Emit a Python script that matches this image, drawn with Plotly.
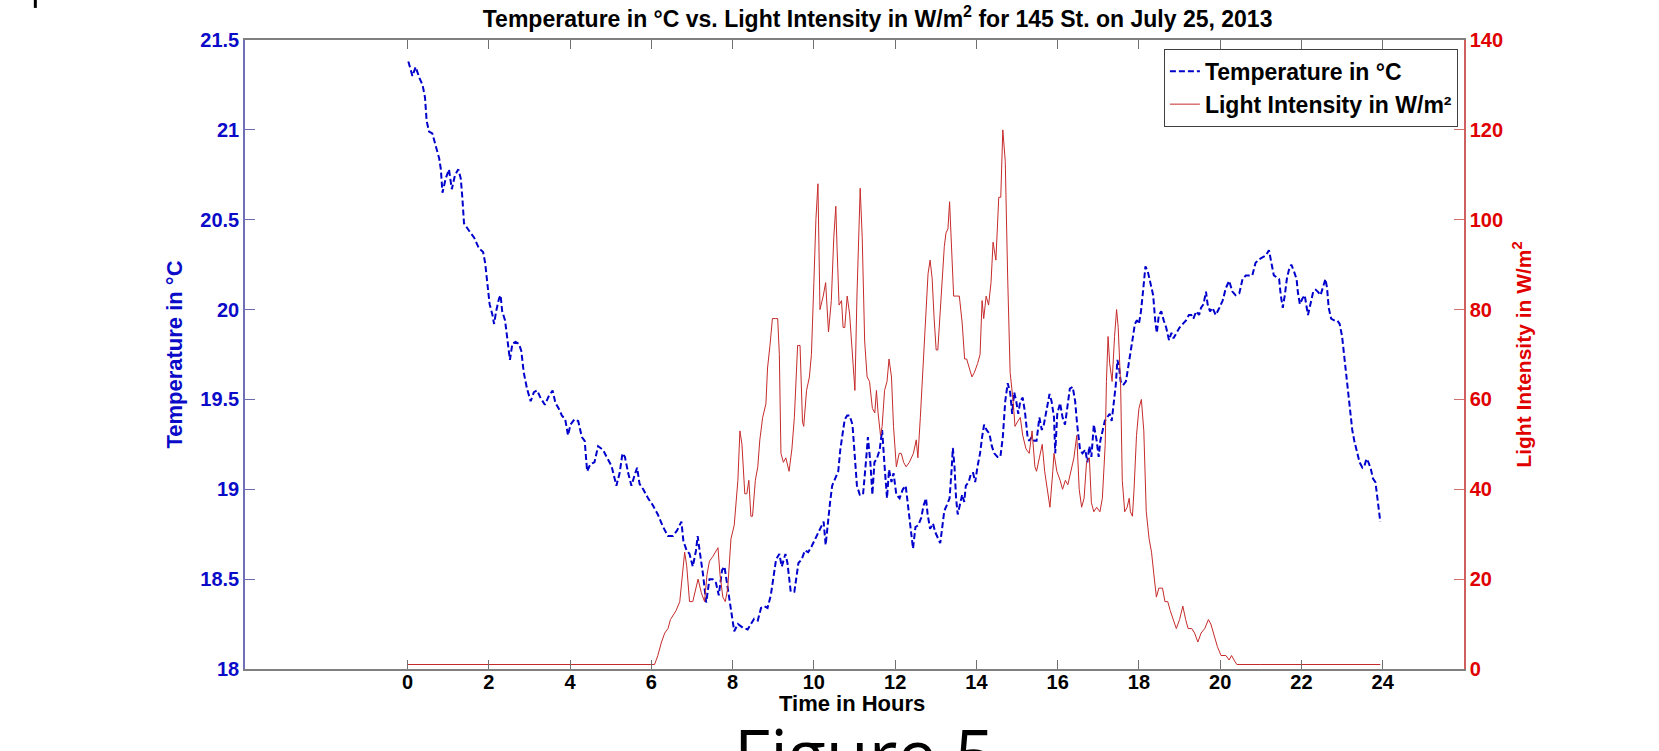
import plotly.graph_objects as go

# ---------------- data ----------------
temp_hours = [0.02, 0.12, 0.2, 0.29, 0.37, 0.43, 0.47, 0.53, 0.61, 0.7, 0.78, 0.82, 0.86, 0.94, 1.02, 1.09, 1.17, 1.25,
              1.31, 1.35, 1.39, 1.51, 1.64, 1.76, 1.86, 1.91, 1.96, 2.02, 2.09, 2.13, 2.18, 2.25, 2.29, 2.33, 2.40, 2.45,
              2.52, 2.58, 2.66, 2.74, 2.80, 2.86, 2.94, 3.03, 3.11, 3.19, 3.27, 3.38, 3.48, 3.57, 3.64, 3.72, 3.80, 3.88,
              3.95, 4.01, 4.11, 4.20, 4.29, 4.36, 4.42, 4.50, 4.60, 4.69, 4.81, 4.90, 5.02, 5.14, 5.22, 5.29, 5.35,
              5.43, 5.51, 5.59, 5.65, 5.71, 5.80, 5.92, 6.04, 6.16, 6.29, 6.41, 6.53, 6.63, 6.74, 6.79, 6.87, 6.94, 7.02,
              7.10, 7.14, 7.20, 7.27, 7.35, 7.43, 7.51, 7.59, 7.66, 7.74, 7.80, 7.86, 7.92, 7.99, 8.04, 8.13, 8.25, 8.37,
              8.45, 8.53, 8.62, 8.70, 8.78, 8.86, 8.94, 9.00, 9.07, 9.15, 9.21, 9.30, 9.35, 9.43, 9.52, 9.62, 9.70,
              9.78, 9.86, 9.94, 10.02, 10.11, 10.18, 10.24, 10.29, 10.34, 10.40, 10.45, 10.52, 10.60, 10.65, 10.70,
              10.76, 10.82, 10.88, 10.95, 11.01, 11.06, 11.13, 11.21, 11.28, 11.33, 11.39, 11.44, 11.49, 11.55, 11.62,
              11.68, 11.74, 11.80, 11.85, 11.91, 11.96, 12.03, 12.11, 12.19, 12.26, 12.31, 12.37, 12.44, 12.50, 12.57,
              12.64, 12.70, 12.76, 12.80, 12.86, 12.93, 12.99, 13.05, 13.11, 13.16, 13.21, 13.27, 13.34, 13.39, 13.42,
              13.46, 13.50, 13.54, 13.60, 13.65, 13.70, 13.74, 13.81, 13.87, 13.92, 13.97, 14.03, 14.09, 14.14, 14.19,
              14.25, 14.32, 14.38, 14.44, 14.52, 14.59, 14.65, 14.71, 14.77, 14.83, 14.88, 14.93, 14.98, 15.03, 15.08,
              15.14, 15.20, 15.26, 15.30, 15.36, 15.42, 15.48, 15.55, 15.61, 15.66, 15.73, 15.80, 15.85, 15.91, 15.94,
              15.99, 16.06, 16.12, 16.18, 16.24, 16.30, 16.37, 16.43, 16.48, 16.55, 16.61, 16.68, 16.73, 16.78, 16.83,
              16.89, 16.96, 17.01, 17.05, 17.10, 17.16, 17.22, 17.28, 17.33, 17.38, 17.43, 17.47, 17.51, 17.55, 17.61,
              17.68, 17.73, 17.79, 17.84, 17.90, 17.95, 18.00, 18.05, 18.10, 18.16, 18.22, 18.28, 18.35, 18.40, 18.44,
              18.49, 18.55, 18.61, 18.67, 18.74, 18.80, 18.85, 18.92, 19.00, 19.08, 19.16, 19.23, 19.29, 19.34, 19.41,
              19.48, 19.53, 19.59, 19.65, 19.69, 19.75, 19.81, 19.89, 19.98, 20.06, 20.14, 20.22, 20.30, 20.38, 20.47,
              20.55, 20.63, 20.71, 20.79, 20.87, 20.96, 21.04, 21.12, 21.20, 21.26, 21.32, 21.39, 21.45, 21.49, 21.54,
              21.59, 21.64, 21.69, 21.75, 21.82, 21.88, 21.91, 21.96, 22.02, 22.08, 22.13, 22.16, 22.22, 22.29, 22.35,
              22.40, 22.47, 22.53, 22.59, 22.63, 22.67, 22.73, 22.80, 22.88, 22.94, 23.00, 23.06, 23.12, 23.19, 23.25,
              23.30, 23.37, 23.43, 23.50, 23.55, 23.60, 23.65, 23.71, 23.76, 23.82, 23.86, 23.90, 23.94]
temperature = [21.38, 21.30, 21.35, 21.29, 21.25, 21.18, 21.05, 20.99, 20.98, 20.91, 20.84, 20.78, 20.65, 20.73, 20.78,
               20.67, 20.75, 20.78, 20.73, 20.62, 20.48, 20.44, 20.40, 20.34, 20.32, 20.26, 20.15, 20.03, 19.97, 19.92,
               19.99, 20.06, 20.08, 19.99, 19.94, 19.85, 19.72, 19.81, 19.82, 19.81, 19.77, 19.65, 19.56, 19.49, 19.54,
               19.55, 19.51, 19.47, 19.52, 19.55, 19.48, 19.45, 19.41, 19.39, 19.30, 19.36, 19.39, 19.38, 19.29, 19.27,
               19.10, 19.14, 19.15, 19.24, 19.22, 19.18, 19.13, 19.02, 19.09, 19.20, 19.18, 19.09, 19.02, 19.08, 19.12,
               19.03, 19.00, 18.95, 18.91, 18.86, 18.79, 18.74, 18.74, 18.77, 18.82, 18.71, 18.66, 18.64, 18.57, 18.66,
               18.74, 18.64, 18.53, 18.37, 18.50, 18.50, 18.48, 18.41, 18.55, 18.57, 18.48, 18.37, 18.28, 18.21, 18.25,
               18.23, 18.22, 18.25, 18.28, 18.27, 18.34, 18.35, 18.34, 18.41, 18.50, 18.61, 18.64, 18.57, 18.64, 18.59,
               18.43, 18.43, 18.59, 18.61, 18.66, 18.65, 18.68, 18.72, 18.76, 18.80, 18.82, 18.69, 18.82, 18.93, 19.02,
               19.06, 19.10, 19.22, 19.31, 19.39, 19.41, 19.41, 19.36, 19.15, 19.02, 18.97, 18.97, 19.15, 19.29, 19.15,
               18.97, 19.15, 19.17, 19.22, 19.33, 19.13, 18.95, 19.11, 19.04, 19.09, 18.97, 18.95, 19.00, 19.02, 18.93,
               18.82, 18.67, 18.79, 18.80, 18.84, 18.91, 18.95, 18.86, 18.78, 18.81, 18.76, 18.73, 18.70, 18.79, 18.88,
               18.91, 18.95, 19.11, 19.23, 19.13, 18.95, 18.86, 18.93, 18.97, 18.93, 19.02, 19.04, 19.09, 19.09, 19.04,
               19.13, 19.20, 19.29, 19.36, 19.33, 19.31, 19.24, 19.20, 19.18, 19.18, 19.29, 19.49, 19.59, 19.54, 19.42,
               19.54, 19.49, 19.42, 19.49, 19.51, 19.42, 19.29, 19.27, 19.29, 19.27, 19.27, 19.40, 19.33, 19.36, 19.45,
               19.53, 19.49, 19.40, 19.20, 19.42, 19.48, 19.40, 19.36, 19.47, 19.56, 19.57, 19.49, 19.36, 19.22, 19.20,
               19.22, 19.15, 19.24, 19.18, 19.36, 19.27, 19.18, 19.27, 19.32, 19.38, 19.40, 19.42, 19.38, 19.49, 19.58,
               19.72, 19.68, 19.60, 19.58, 19.60, 19.68, 19.76, 19.83, 19.92, 19.94, 19.92, 19.99, 20.10, 20.24, 20.21,
               20.15, 20.08, 19.94, 19.87, 19.97, 19.99, 19.94, 19.90, 19.83, 19.87, 19.84, 19.87, 19.90, 19.92, 19.94,
               19.97, 19.97, 19.95, 19.99, 19.97, 20.01, 20.03, 20.10, 20.03, 19.99, 20.01, 19.97, 20.01, 20.05, 20.12,
               20.16, 20.10, 20.08, 20.09, 20.17, 20.19, 20.19, 20.19, 20.26, 20.28, 20.29, 20.30, 20.33, 20.26, 20.19,
               20.18, 20.17, 20.08, 20.01, 20.08, 20.17, 20.22, 20.25, 20.21, 20.17, 20.10, 20.03, 20.06, 20.08, 20.01,
               19.97, 20.03, 20.10, 20.11, 20.10, 20.08, 20.12, 20.17, 20.12, 20.01, 19.95, 19.94, 19.94, 19.92, 19.85,
               19.72, 19.58, 19.42, 19.33, 19.27, 19.20, 19.15, 19.12, 19.13, 19.17, 19.15, 19.11, 19.06, 19.04, 18.97,
               18.88, 18.82]

light_hours = [0.0, 2.0, 4.0, 6.0, 6.08, 6.16, 6.25, 6.33, 6.41, 6.47, 6.53, 6.61, 6.70, 6.76, 6.82, 6.87, 6.94, 7.02,
               7.10, 7.15, 7.23, 7.31, 7.37, 7.43, 7.51, 7.64, 7.69, 7.76, 7.82, 7.88, 7.96, 8.04, 8.13, 8.18, 8.23,
               8.30, 8.35, 8.40, 8.45, 8.49, 8.56, 8.62, 8.67, 8.74, 8.82, 8.86, 8.92, 8.98, 9.05, 9.11, 9.15, 9.19,
               9.25, 9.31, 9.39, 9.46, 9.52, 9.60, 9.66, 9.72, 9.75, 9.82, 9.89, 9.94, 10.0, 10.05, 10.10, 10.15,
               10.23, 10.29, 10.36, 10.43, 10.49, 10.54, 10.57, 10.62, 10.68, 10.72, 10.76, 10.82, 10.88, 10.95,
               11.01, 11.06, 11.11, 11.14, 11.19, 11.25, 11.31, 11.37, 11.44, 11.50, 11.54, 11.58, 11.64, 11.68,
               11.74, 11.80, 11.85, 11.91, 11.96, 12.03, 12.10, 12.15, 12.21, 12.27, 12.35, 12.45, 12.52, 12.56,
               12.62, 12.68, 12.75, 12.81, 12.86, 12.91, 12.96, 13.01, 13.05, 13.09, 13.16, 13.21, 13.25, 13.30,
               13.34, 13.38, 13.44, 13.52, 13.58, 13.65, 13.71, 13.76, 13.83, 13.89, 13.95, 14.03, 14.09, 14.14,
               14.18, 14.24, 14.30, 14.36, 14.41, 14.48, 14.55, 14.60, 14.65, 14.71, 14.77, 14.83, 14.90, 14.95,
               15.01, 15.08, 15.14, 15.22, 15.30, 15.37, 15.44, 15.48, 15.55, 15.62, 15.68, 15.75, 15.81, 15.88,
               15.91, 15.98, 16.06, 16.12, 16.19, 16.25, 16.32, 16.40, 16.47, 16.53, 16.59, 16.65, 16.71, 16.78,
               16.83, 16.89, 16.96, 17.04, 17.10, 17.17, 17.20, 17.24, 17.28, 17.34, 17.40, 17.45, 17.49, 17.55,
               17.59, 17.65, 17.71, 17.76, 17.79, 17.84, 17.88, 17.94, 18.00, 18.06, 18.12, 18.18, 18.25, 18.31,
               18.38, 18.43, 18.49, 18.58, 18.64, 18.71, 18.77, 18.84, 18.92, 19.00, 19.08, 19.15, 19.21, 19.30,
               19.37, 19.45, 19.53, 19.62, 19.71, 19.77, 19.84, 19.93, 20.02, 20.14, 20.22, 20.28, 20.34, 20.41,
               21.0, 22.0, 23.0, 23.94]
light = [1, 1, 1, 1, 1, 3, 6, 8, 9, 11, 12, 13, 15, 20, 26, 23, 15, 15,
         18, 20, 17, 15, 21, 24, 25, 27, 21, 16, 15, 18, 29, 32, 42, 53, 50,
         39, 39, 42, 34, 34, 42, 45, 51, 56, 59, 67, 72, 78, 78, 78, 70, 48,
         46, 47, 44, 49, 56, 72, 72, 55, 54, 62, 65, 70, 86, 100, 108, 80,
         83, 86, 75, 82, 96, 103, 94, 81, 82, 76, 76, 83, 79, 70,
         62, 83, 102, 107, 96, 73, 65, 64, 58, 57, 62, 57, 52, 54,
         62, 64, 69, 65, 54, 45, 48, 48, 46, 45, 46, 48, 51, 47,
         56, 66, 80, 88, 91, 87, 78, 71, 71, 77, 85, 94, 97, 98,
         104, 94, 83, 83, 83, 77, 69, 69, 67, 65, 66, 68, 70, 82,
         78, 83, 81, 86, 95, 91, 105, 105, 120, 113, 87, 66, 60, 54,
         55, 56, 52, 49, 48, 53, 45, 44, 47, 50, 44, 40, 36, 44,
         48, 44, 42, 40, 42, 41, 44, 47, 52, 40, 36, 38, 46, 47,
         37, 35, 36, 35, 38, 50, 64, 74, 68, 64, 74, 80, 76, 63,
         42, 35, 36, 38, 35, 34, 40, 52, 58, 60, 53, 35, 29, 26,
         20, 16, 18, 18, 15, 15, 13, 11, 9, 11, 14, 11, 9, 9,
         8, 6, 8, 9, 11, 10, 8, 5, 3, 3, 2, 3, 2, 1,
         1, 1, 1, 1]

x_ticks = list(range(0, 25, 2))
temp_ticks = [18, 18.5, 19, 19.5, 20, 20.5, 21, 21.5]
temp_tick_text = ["18", "18.5", "19", "19.5", "20", "20.5", "21", "21.5"]
light_ticks = [0, 20, 40, 60, 80, 100, 120, 140]

# ---------------- styles ----------------
FONT = "Liberation Sans, Arial, sans-serif"
BLUE = "#0a0ac8"
RED = "#e00000"
LINE_RED = "#c62b2b"

fig = go.Figure()
fig.add_trace(go.Scatter(
    x=temp_hours, y=temperature, mode="lines", name="Temperature in °C",
    line=dict(color="#0000cc", width=2, dash="6px,3px"), yaxis="y"))
fig.add_trace(go.Scatter(
    x=light_hours, y=light, mode="lines", name="Light Intensity in W/m²",
    line=dict(color=LINE_RED, width=1.0), yaxis="y2"))

fig.update_layout(
    width=1659, height=751,
    margin=dict(l=245, r=195, t=40, b=82),
    paper_bgcolor="white", plot_bgcolor="white",
    font=dict(family=FONT, size=16, color="black"),
    title=dict(text="<b>Temperature in °C vs. Light Intensity in W/m<sup>2</sup> for 145 St. on July 25, 2013</b>",
               x=0.529, xanchor="center", y=0.975, yanchor="middle",
               font=dict(family=FONT, size=23, color="black")),
    xaxis=dict(range=[-4, 26], tickvals=x_ticks, ticks="inside", ticklen=9, tickcolor="#707070",
               showline=True, linecolor="#808080", linewidth=1.5, mirror="ticks", showgrid=False,
               zeroline=False, ticklabelstandoff=-6,
               tickfont=dict(family=FONT, size=20, color="black", weight="bold")),
    yaxis=dict(range=[18, 21.5], tickvals=temp_ticks, ticktext=temp_tick_text, ticks="inside",
               ticklen=10, tickcolor="#6a6ab0", showline=True, linecolor="#7070b8", linewidth=1.5,
               showgrid=False, zeroline=False,
               tickfont=dict(family=FONT, size=20, color=BLUE, weight="bold"),
               title=dict(text="<b>Temperature in °C</b>", standoff=12,
                          font=dict(family=FONT, size=22, color=BLUE))),
    yaxis2=dict(range=[0, 140], tickvals=light_ticks, ticks="inside", ticklen=10, tickcolor="#d07070",
                overlaying="y", side="right", showline=True, linecolor="#d06060", linewidth=1.5,
                showgrid=False, zeroline=False,
                tickfont=dict(family=FONT, size=20, color=RED, weight="bold"),
                title=dict(text="<b>Light Intensity in W/m<sup>2</sup></b>", standoff=14,
                           font=dict(family=FONT, size=21, color=RED))),
    legend=dict(x=0.995, xanchor="right", y=0.986, yanchor="top", bgcolor="white",
                bordercolor="#404040", borderwidth=1, tracegroupgap=0, itemwidth=30,
                font=dict(family=FONT, size=23, color="black", weight="bold")),
    showlegend=True,
)

fig.add_annotation(text="<b>Time in Hours</b>", xref="paper", yref="paper", x=0.498, y=-0.055,
                   xanchor="center", yanchor="middle", showarrow=False,
                   font=dict(family=FONT, size=22, color="black"))
fig.add_annotation(text="Figure 5", xref="paper", yref="paper", x=0.508, y=-0.1335,
                   xanchor="center", yanchor="middle", showarrow=False,
                   font=dict(family="Open Sans", size=70, color="black"))
fig.add_shape(type="line", xref="paper", yref="paper", x0=-0.172, x1=-0.172, y0=1.051, y1=1.064,
              line=dict(color="black", width=3))

fig.write_html("out.html", config={"displayModeBar": False},
               post_script="document.body.style.margin='0px';")
